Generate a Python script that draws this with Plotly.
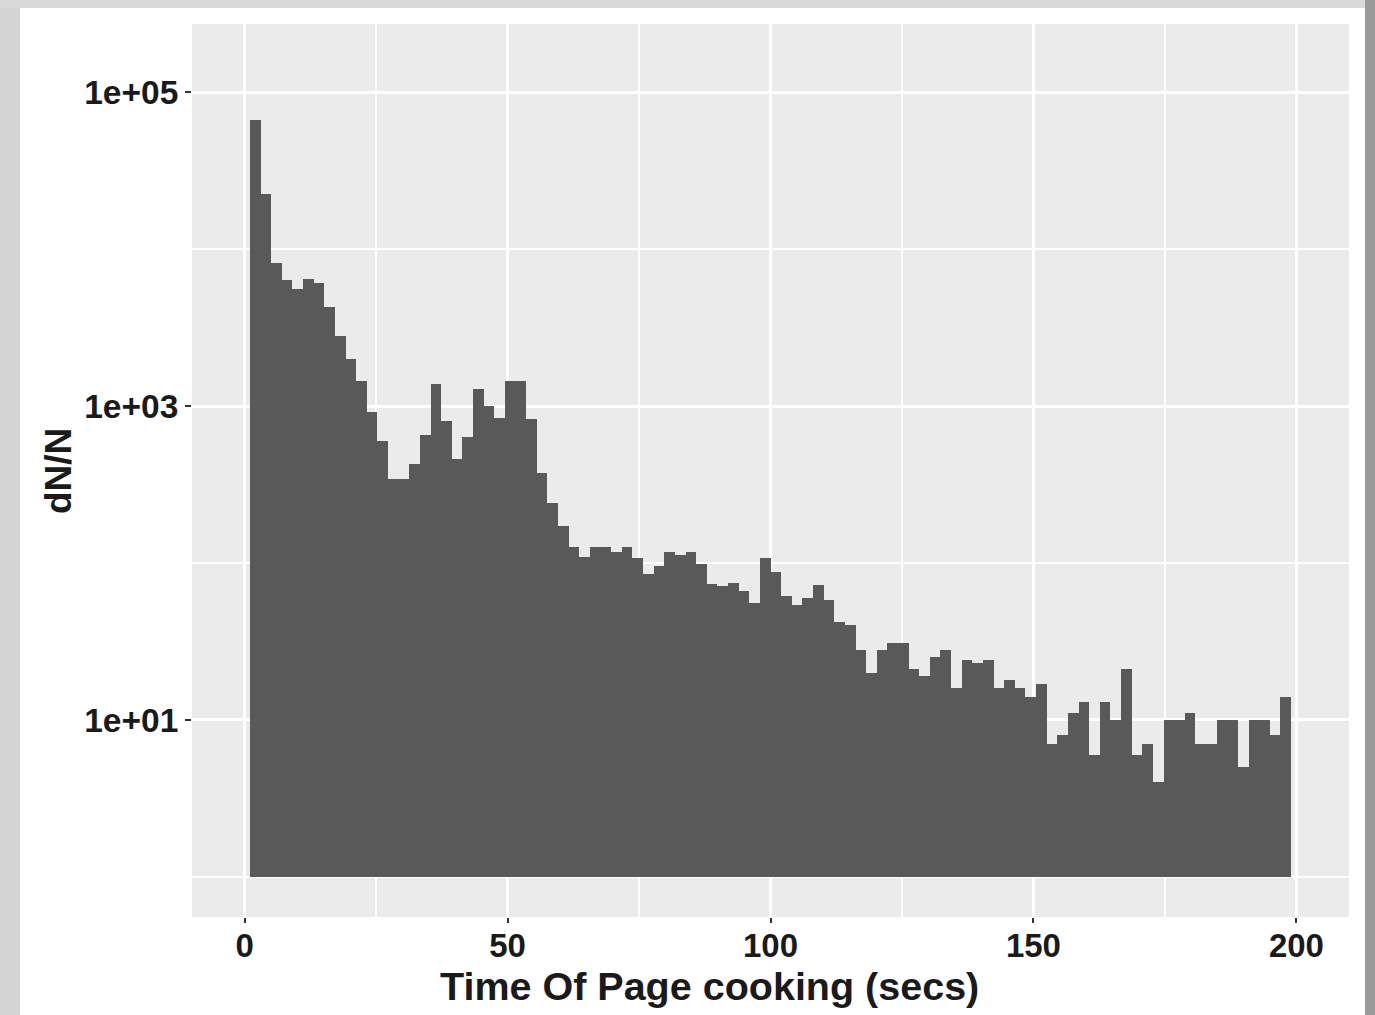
import plotly.graph_objects as go

# Histogram of page cooking time: 100 bins of width 200/99 over [0, 200];
# the two edge bins fall outside the x limits, leaving 98 bars.
bin_width = 200 / 99
bin_index = list(range(1, 99))
bin_centers = [round(k * bin_width, 4) for k in bin_index]

counts = [
    66500, 22400, 8130, 6340, 5550, 6450, 6110, 4300, 2800, 2000,
    1445, 921, 598, 343, 343, 425, 651, 1376, 807, 458,
    632, 1280, 1003, 836, 1445, 1445, 831, 376, 240, 172,
    126, 109, 126, 126, 117, 126, 108, 85, 96, 118,
    112, 117, 98, 74, 71, 75, 66, 56, 108, 87,
    62, 54, 60, 72, 58, 42, 40, 28, 20, 28,
    31, 31, 21, 19, 25, 28, 16, 24, 23, 24,
    16, 18, 16, 14, 17, 7, 8, 11, 13, 6,
    13, 10, 21, 6, 7, 4, 10, 10, 11, 7,
    7, 10, 10, 5, 10, 10, 8, 14,
]

y_tick_vals = [10, 1000, 100000]
y_tick_text = ["1e+01", "1e+03", "1e+05"]
y_minor_vals = [1, 100, 10000]
x_tick_vals = [0, 50, 100, 150, 200]
x_minor_vals = [25, 75, 125, 175]
x_title = "Time Of Page cooking (secs)"
y_title = "dN/N"

# bars rise from a floor of 1 on the log axis
floor = 1
fig = go.Figure(
    go.Bar(
        x=bin_centers,
        y=[c - floor for c in counts],
        base=[floor] * len(counts),
        width=bin_width,
        marker=dict(color="#595959", line=dict(width=0)),
        customdata=counts,
        hovertemplate="%{x:.1f}s: %{customdata}<extra></extra>",
    )
)

text_font = dict(family="Liberation Sans, Arial, sans-serif", color="#1a1a1a", weight="bold")

W, H = 1375, 1015
ml, mr, mt, mb = 192, 26, 24, 98
pw, ph = W - ml - mr, H - mt - mb


def px_x(p):
    return (p - ml) / pw


def px_y(p):
    return (H - mb - p) / ph


# page frame around the white card
frame = [
    dict(x0=0, x1=20, y0=0, y1=H, fill="#d4d4d4"),
    dict(x0=0, x1=W, y0=0, y1=8, fill="#d9d9d9"),
    dict(x0=1365, x1=W, y0=0, y1=H, fill="#9a9a9a"),
]
shapes = [
    dict(
        type="rect", xref="paper", yref="paper",
        x0=px_x(f["x0"]), x1=px_x(f["x1"]), y0=px_y(f["y1"]), y1=px_y(f["y0"]),
        fillcolor=f["fill"], line=dict(width=0), layer="above",
    )
    for f in frame
]

fig.update_layout(
    width=W,
    height=H,
    margin=dict(l=ml, r=mr, t=mt, b=mb),
    paper_bgcolor="white",
    plot_bgcolor="#EBEBEB",
    bargap=0,
    showlegend=False,
    shapes=shapes,
    annotations=[
        dict(
            text=x_title, xref="paper", yref="paper",
            x=px_x(709), y=px_y(986), xanchor="center", yanchor="middle",
            showarrow=False, font=dict(size=39.5, **text_font),
        ),
        dict(
            text=y_title, xref="paper", yref="paper", textangle=-90,
            x=px_x(58), y=px_y(471), xanchor="center", yanchor="middle",
            showarrow=False, font=dict(size=37, **text_font),
        ),
    ],
    xaxis=dict(
        range=[-10, 210],
        tickmode="array",
        tickvals=x_tick_vals,
        ticks="outside",
        ticklen=5,
        tickwidth=2,
        tickcolor="#333333",
        ticklabelstandoff=-6,
        showgrid=True,
        gridcolor="white",
        gridwidth=2.8,
        zeroline=False,
        showline=False,
        minor=dict(tickmode="array", tickvals=x_minor_vals, showgrid=True,
                   gridcolor="white", gridwidth=1.6, ticks=""),
        tickfont=dict(size=33, **text_font),
    ),
    yaxis=dict(
        type="log",
        range=[-0.256, 5.435],
        tickmode="array",
        tickvals=y_tick_vals,
        ticktext=y_tick_text,
        ticks="outside",
        ticklen=6,
        tickwidth=2,
        tickcolor="#333333",
        showgrid=True,
        gridcolor="white",
        gridwidth=2.8,
        zeroline=False,
        showline=False,
        minor=dict(tickmode="array", tickvals=y_minor_vals, showgrid=True,
                   gridcolor="white", gridwidth=1.6, ticks=""),
        tickfont=dict(size=33.5, **text_font),
    ),
)

fig.write_html("out.html")
